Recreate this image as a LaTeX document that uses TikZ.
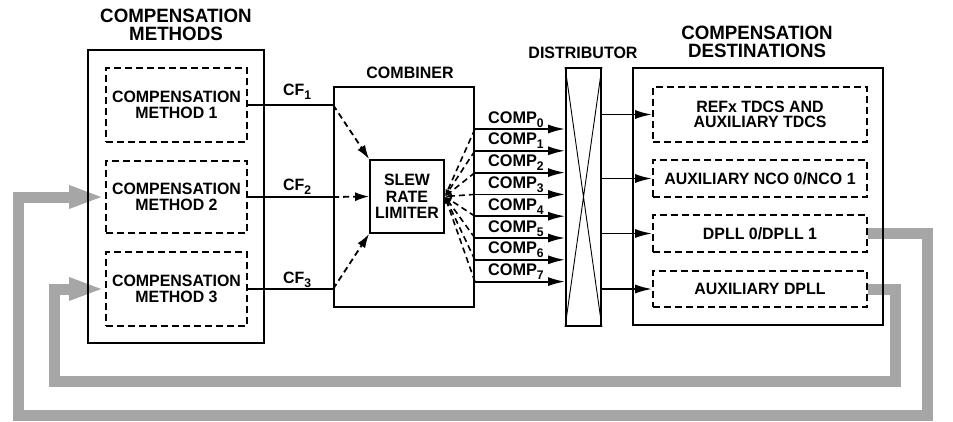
\documentclass[tikz,border=0pt]{standalone}
\usepackage{fontspec}
\setmainfont{Liberation Sans}[FakeStretch=0.97]
\usetikzlibrary{arrows.meta}
\pgfdeclarelayer{background}
\pgfsetlayers{background,main}
\definecolor{fbgray}{RGB}{166,166,166}
\newcommand\mysub[1]{\raisebox{-4pt}{\fontsize{12.5}{12.5}\selectfont #1}}
\newcommand\bodyfont{\fontsize{16.4}{16.5}\selectfont\bfseries}
\newcommand\compfont{\fontsize{16.8}{16.8}\selectfont\bfseries}
\newcommand\destfont{\fontsize{16.4}{15.5}\selectfont\bfseries}
\newcommand\titlefont{\fontsize{19.3}{17.8}\selectfont\bfseries}
\newcommand\midfont{\fontsize{16.5}{16.5}\selectfont\bfseries}
\tikzset{
  solidbox/.style={draw, line width=1.8pt, inner sep=0pt},
  dashbox/.style={draw, line width=1.8pt, dash pattern=on 7pt off 4pt, inner sep=0pt, align=center, font=\bodyfont},
  destbox/.style={dashbox, font=\destfont},
  titletext/.style={align=center, inner sep=0pt, font=\titlefont},
  midtitle/.style={inner sep=0pt, font=\midfont},
  lbl/.style={inner sep=0pt, anchor=base west, font=\bodyfont},
  clbl/.style={inner sep=0pt, anchor=base west, font=\compfont},
  wire/.style={line width=1.8pt},
  ar/.style={line width=1.8pt, -{Latex[length=17pt,width=9pt]}},
  dar/.style={line width=1.8pt, dash pattern=on 6pt off 4pt, -{Latex[length=14pt,width=9pt]}},
  sdar/.style={line width=1.6pt, dash pattern=on 6pt off 4pt, -{Latex[length=7pt,width=5pt]}},
  feed/.style={line width=11pt, draw=fbgray, line join=miter, -{Triangle[length=32pt,width=24pt,line width=0pt]}}
}
\begin{document}
\begin{tikzpicture}[x=1pt,y=-1pt]
\useasboundingbox (0,0) rectangle (953,421);

% boxes
\node[solidbox, minimum width=176pt, minimum height=293pt] (meth) at (176,196.5) {};
\node[dashbox, minimum width=141pt, minimum height=74pt] (m1) at (176.5,105) {COMPENSATION\\METHOD 1};
\node[dashbox, minimum width=141pt, minimum height=72pt] (m2) at (176.5,197) {COMPENSATION\\METHOD 2};
\node[dashbox, minimum width=141pt, minimum height=74pt] (m3) at (176.5,289) {COMPENSATION\\METHOD 3};

\node[solidbox, minimum width=140pt, minimum height=220pt] (comb) at (404,197) {};
\node[solidbox, minimum width=74pt, minimum height=73pt, align=center, font=\bodyfont] (slew) at (407,196.5) {SLEW\\RATE\\LIMITER};
\node[solidbox, minimum width=35pt, minimum height=258pt] (dist) at (583.5,197) {};
\node[solidbox, minimum width=250pt, minimum height=257pt] (dest) at (758,196.5) {};
\node[destbox, minimum width=214pt, minimum height=55pt] (d1) at (760,114.5) {REFx TDCS AND\\AUXILIARY TDCS};
\node[destbox, minimum width=214pt, minimum height=37pt] (d2) at (760,178.5) {AUXILIARY NCO 0/NCO 1};
\node[destbox, minimum width=214pt, minimum height=37pt] (d3) at (760,233.5) {DPLL 0/DPLL 1};
\node[destbox, minimum width=214pt, minimum height=36pt] (d4) at (760,289) {AUXILIARY DPLL};

% feedback paths (under the boxes)
\begin{pgfonlayer}{background}
\draw[feed] (d3.east) -| (927,415) -- (18.5,415) |- ([xshift=-4pt]m2.west);
\draw[feed] (d4.east) -| (895,381) -- (54,381) |- ([xshift=-4pt]m3.west);
\end{pgfonlayer}

% titles
\node[titletext] (tm) at (176,24.5) {COMPENSATION\\METHODS};
\node[titletext] (td) at (757,42) {COMPENSATION\\DESTINATIONS};
\node[midtitle] (tc) at (410,72.5) {COMBINER};
\node[midtitle] (tdi) at (583,53.3) {DISTRIBUTOR};

% distributor cross
\draw[line width=0.9pt] (dist.north west) -- (dist.south east) (dist.north east) -- (dist.south west);

% CF inputs
\draw[wire] (m1.east) -- (comb.west |- m1.east);
\draw[wire] (m2.east) -- (comb.west |- m2.east);
\draw[wire] (m3.east) -- (comb.west |- m3.east);
\draw[dar] (comb.west |- m1.east) -- (slew.north west);
\draw[dar] (comb.west |- m2.east) -- (slew.west);
\draw[dar] (comb.west |- m3.east) -- (slew.south west);
\node[lbl] (cf1) at (283,95) {CF\mysub{1}};
\node[lbl] (cf2) at (283,190) {CF\mysub{2}};
\node[lbl] (cf3) at (283,283) {CF\mysub{3}};

% COMP outputs
\foreach \i in {0,...,7} {
  \pgfmathsetmacro\yy{129+21.8*\i}
  \coordinate (k\i) at (0,\yy);
  \draw[sdar] (comb.east |- k\i) -- (slew.east);
  \draw[ar] (comb.east |- k\i) -- (dist.west |- k\i);
  \node[clbl] (cl\i) at ([xshift=13pt,yshift=6pt]comb.east |- k\i) {COMP\mysub{\i}};
}

% distributor to destinations
\draw[ar] (dist.east |- d1.west) -- (d1.west);
\draw[ar] (dist.east |- d2.west) -- (d2.west);
\draw[ar] (dist.east |- d3.west) -- (d3.west);
\draw[ar] (dist.east |- d4.west) -- (d4.west);
\end{tikzpicture}
\end{document}
